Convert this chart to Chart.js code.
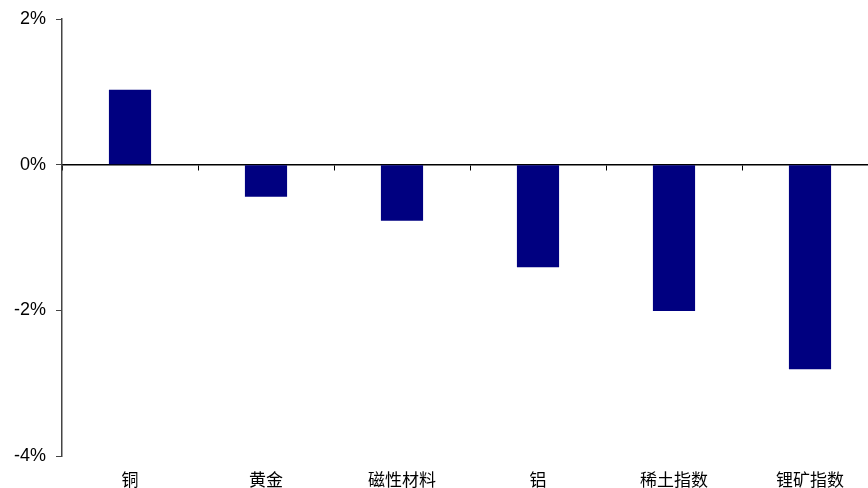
<!DOCTYPE html>
<html>
<head>
<meta charset="utf-8">
<script src="https://cdn.jsdelivr.net/npm/chart.js@4"></script>
<style>
  html, body { margin: 0; padding: 0; background: #fff; overflow: hidden; }
  #wrap { width: 878px; height: 488px; }
</style>
</head>
<body>
<div id="wrap"><canvas id="metalChart"></canvas></div>
<script>
// categories and change (%)
const categories = ['铜', '黄金', '磁性材料', '铝', '稀土指数', '锂矿指数'];
const changes = [1.03, -0.44, -0.77, -1.41, -2.01, -2.81];
const yTicks = [2, 0, -2, -4];

const ctx = document.getElementById('metalChart').getContext('2d');
const chart = new Chart(ctx, {
    type: 'bar',
    data: {
        labels: categories,
        datasets: [{
            data: changes,
            backgroundColor: '#000080',
            borderWidth: 0,
            xAxisID: 'x',
            barPercentage: 0.31,
            categoryPercentage: 1
        }]
    },
    options: {
        responsive: true,
        maintainAspectRatio: false,
        animation: false,
        layout: { padding: { top: 0, right: 0, left: 1, bottom: 0 } },
        plugins: { legend: { display: false }, tooltip: { enabled: false } },
        scales: {
            x: {
                type: 'category',
                position: 'bottom',
                offset: true,
                grid: { display: false },
                border: { display: false },
                ticks: {
                    color: '#000',
                    font: { family: '"Noto Sans CJK SC"', size: 17 },
                    padding: 5,
                    maxRotation: 0
                },
                afterFit: scale => { scale.height = 32; }
            },
            // zero line with its category tick marks
            x0: {
                type: 'category',
                labels: categories,
                position: { y: 0 },
                offset: true,
                grid: { drawOnChartArea: false, tickLength: 5, color: '#000', offset: true },
                border: { display: true, color: '#000', width: 1.5 },
                ticks: { display: false }
            },
            y: {
                min: -4,
                max: 2,
                afterBuildTicks: scale => { scale.ticks = yTicks.map(v => ({ value: v })); },
                grid: { drawOnChartArea: false, tickLength: 6, color: '#444' },
                border: { display: true, color: '#444', width: 1.5 },
                ticks: {
                    color: '#000',
                    font: { family: '"Liberation Sans", Arial', size: 18, lineHeight: 1 },
                    padding: 10,
                    callback: v => v + '%'
                },
                afterFit: scale => { scale.width = 61; }
            }
        }
    }
});
</script>
</body>
</html>
